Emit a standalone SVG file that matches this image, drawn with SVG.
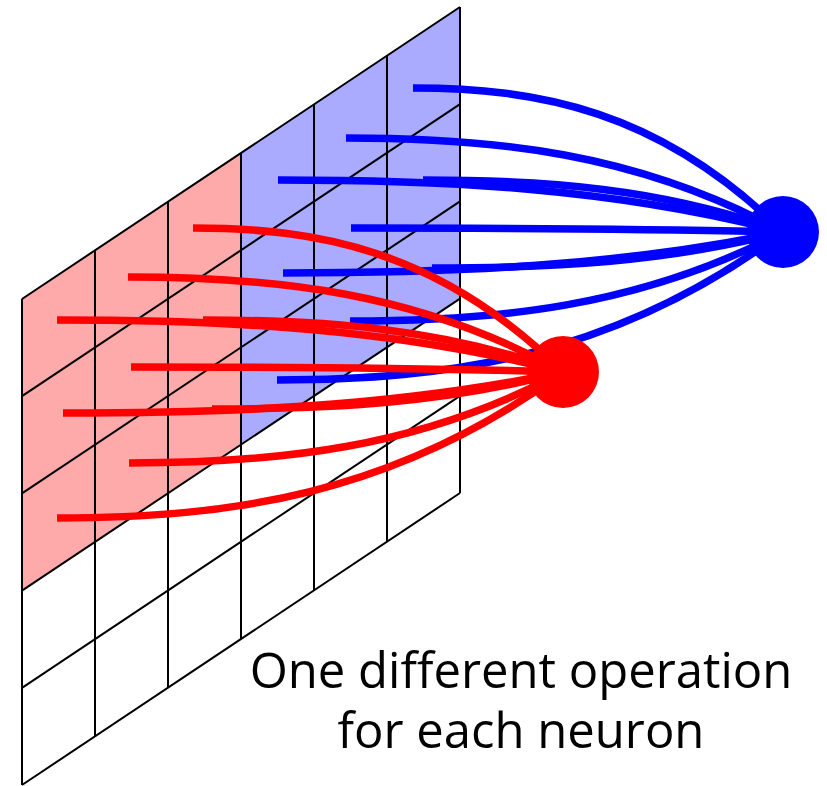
<svg xmlns="http://www.w3.org/2000/svg" width="827" height="786" viewBox="0 0 827 786">
<style>
.grid{fill:none;stroke:#000;stroke-width:2}
.red{fill:none;stroke:#ff0000;stroke-width:7.5}
.blue{fill:none;stroke:#0000ff;stroke-width:7.5}
.label{font-family:"Open Sans","Noto Sans","DejaVu Sans",sans-serif;font-size:49px;fill:#000;text-anchor:middle}
</style>
<rect width="827" height="786" fill="#fff"/>
<g id="grid">
<polygon points="22,299 241,153 241,444.6 22,590.6" fill="#ffaaaa"/>
<polygon points="241,153 460,7 460,298.6 241,444.6" fill="#aaaaff"/>
<g class="grid">
<line x1="22" y1="299" x2="22" y2="785"/>
<line x1="95" y1="250.33" x2="95" y2="736.33"/>
<line x1="168" y1="201.67" x2="168" y2="687.67"/>
<line x1="241" y1="153" x2="241" y2="639"/>
<line x1="314" y1="104.33" x2="314" y2="590.33"/>
<line x1="387" y1="55.67" x2="387" y2="541.67"/>
<line x1="460" y1="7" x2="460" y2="493"/>
<line x1="22" y1="299" x2="460" y2="7"/>
<line x1="22" y1="396.2" x2="460" y2="104.2"/>
<line x1="22" y1="493.4" x2="460" y2="201.4"/>
<line x1="22" y1="590.6" x2="460" y2="298.6"/>
<line x1="22" y1="687.8" x2="460" y2="395.8"/>
<line x1="22" y1="785" x2="460" y2="493"/>
</g>
</g>
<g id="connectors">
<g id="blue-connectors" class="blue">
<path d="M413,88 C536.3,88 659.7,109.6 783,232"/>
<path d="M346,138 C491.7,138 637.3,152.1 783,232"/>
<path d="M278,180 C446.3,180 614.7,187.8 783,232"/>
<path d="M351,228 C495,228 639,228.6 783,232"/>
<path d="M283,273 C449.7,273 616.3,266.9 783,232"/>
<path d="M423,180 C543,180 663,187.8 783,232"/>
<path d="M277,380 C445.7,380 614.3,357.8 783,232"/>
<path d="M350,321 C494.3,321 638.7,307.7 783,232"/>
<path d="M432,268 C549,268 666,262.6 783,232"/>
</g>
<g id="red-connectors" class="red">
<path d="M193,228 C316.3,228 439.7,249.6 563,372"/>
<path d="M128,277 C273,277 418,291.3 563,372"/>
<path d="M57,320 C225.7,320 394.3,327.8 563,372"/>
<path d="M131,367 C275,367 419,367.8 563,372"/>
<path d="M63,413 C229.7,413 396.3,406.9 563,372"/>
<path d="M203,320 C323,320 443,327.8 563,372"/>
<path d="M57,518 C225.7,518 394.3,496.1 563,372"/>
<path d="M129,463 C273.7,463 418.3,449.4 563,372"/>
<path d="M212,409 C329,409 446,403.5 563,372"/>
</g>
</g>
<g id="neuron-blue">
<circle cx="783" cy="232" r="36" fill="#0000ff"/>
</g>
<g id="neuron-red">
<circle cx="563" cy="372" r="36" fill="#ff0000"/>
</g>
<g id="caption">
<text class="label" x="521" y="688">One different operation</text>
<text class="label" x="521" y="748">for each neuron</text>
</g>
</svg>
